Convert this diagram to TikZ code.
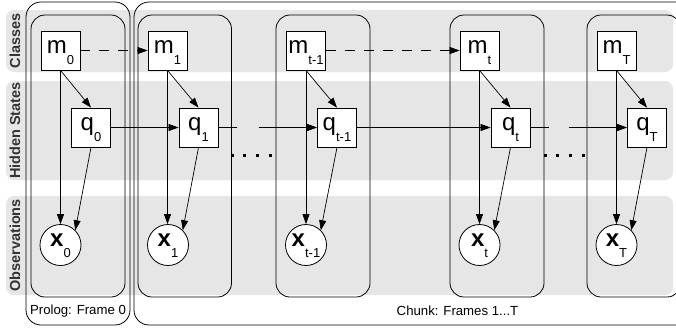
\documentclass[tikz,border=0pt]{standalone}
\usepackage{fontspec}
\setmainfont{Liberation Sans}
\usetikzlibrary{arrows.meta}
\definecolor{bandgray}{HTML}{E6E6E6}
\definecolor{labgray}{HTML}{333333}
\newcommand\mylab[2]{{\fontsize{24}{24}\selectfont #1}\raisebox{-10.5pt}{\fontsize{13}{13}\selectfont #2}}
\begin{document}
\begin{tikzpicture}[x=1pt,y=-1pt,
  band/.style={fill=bandgray, rounded corners=8pt},
  bandlab/.style={rotate=90, font=\fontsize{14.5}{14.5}\selectfont\bfseries, text=labgray, inner sep=0pt},
  framebox/.style={draw=black, line width=0.8pt, rounded corners=14pt},
  var/.style={draw, fill=white, minimum size=39pt, inner sep=0pt, text height=16pt, text depth=9.4pt, line width=0.8pt},
  obs/.style={draw, fill=white, circle, minimum size=41pt, inner sep=0pt, text height=13pt, text depth=9.6pt, line width=0.8pt},
  arr/.style={-{Triangle[length=10pt,width=7pt]}, line width=0.7pt},
  dasharr/.style={arr, dash pattern=on 10pt off 9pt},
  dotrow/.style={line width=3pt, dash pattern=on 3pt off 9.67pt},
  framelab/.style={font=\fontsize{13.2}{13.2}\selectfont, inner sep=0pt}
]
\useasboundingbox (0,0) rectangle (676,327);
\clip (0,0) rectangle (676,327);
\fill[white] (0,0) rectangle (676,327);
% bands
\fill[band] (6,10) rectangle (673,72);
\fill[band] (6,81) rectangle (673,180);
\fill[band] (6,196) rectangle (673,295);
\node[bandlab] (lc) at (15,41) {Classes};
\node[bandlab] (lh) at (15,130.5) {Hidden States};
\node[bandlab] (lo) at (15,245.5) {Observations};
% frames
\draw[framebox, rounded corners=15pt] (26,2) rectangle (130,325);
\draw[framebox, rounded corners=15pt] (134,2) rectangle (700,325);
\draw[framebox] (31,15) rectangle (125,297);
\draw[framebox] (138,15) rectangle (231.5,297);
\draw[framebox] (276,15) rectangle (370,297);
\draw[framebox] (450,15) rectangle (544,297);
\draw[framebox] (587,15) rectangle (681,297);
\node[framelab] (pl) at (78,311) {Prolog: Frame 0};
\node[framelab] (cl) at (457.5,311) {Chunk: Frames 1...T};
% nodes
\node[var] (m0) at (60.5,50.5) {\mylab{m}{0}};
\node[var] (m1) at (167.5,50.5) {\mylab{m}{1}};
\node[var] (m2) at (306,50.5) {\mylab{m}{t-1}};
\node[var] (m3) at (479.5,50.5) {\mylab{m}{t}};
\node[var] (m4) at (616.5,50.5) {\mylab{m}{T}};
\node[var] (q0) at (91,127.5) {\mylab{q}{0}};
\node[var] (q1) at (198.5,127.5) {\mylab{q}{1}};
\node[var] (q2) at (337,127.5) {\mylab{q}{t-1}};
\node[var] (q3) at (510.5,127.5) {\mylab{q}{t}};
\node[var] (q4) at (647,127.5) {\mylab{q}{T}};
\node[obs] (x0) at (60.5,245) {\mylab{\textbf{x}}{0}};
\node[obs] (x1) at (168,245) {\mylab{\textbf{x}}{1}};
\node[obs] (x2) at (306,245) {\mylab{\textbf{x}}{t-1}};
\node[obs] (x3) at (479.5,245) {\mylab{\textbf{x}}{t}};
\node[obs] (x4) at (616.5,245) {\mylab{\textbf{x}}{T}};
% edges within frames
\foreach \i in {0,...,4}{
  \draw[arr] (m\i.south) -- (q\i.north);
  \draw[arr] (m\i.south) -- (m\i.south |- x\i.north);
  \draw[arr] (q\i.south) -- (x\i.north east);
}
% class dashed arrows
\draw[dasharr] (m0.east) -- (m1.west);
\draw[dasharr] (m2.east) -- (m3.west);
% state arrows
\draw[arr] (q0.east) -- (q1.west);
\draw[arr] (q2.east) -- (q3.west);
\coordinate (s1) at (237,127.5);
\coordinate (s2) at (259,127.5);
\coordinate (s3) at (549,127.5);
\coordinate (s4) at (569,127.5);
\draw[line width=0.7pt] (q1.east) -- (s1);
\draw[arr] (s2) -- (q2.west);
\draw[line width=0.7pt] (q3.east) -- (s3);
\draw[arr] (s4) -- (q4.west);
% dots
\coordinate (d1) at (230.8,155);
\coordinate (d2) at (272,155);
\coordinate (d3) at (543.5,155);
\coordinate (d4) at (584.5,155);
\draw[dotrow] (d1) -- (d2);
\draw[dotrow] (d3) -- (d4);
\end{tikzpicture}
\end{document}
